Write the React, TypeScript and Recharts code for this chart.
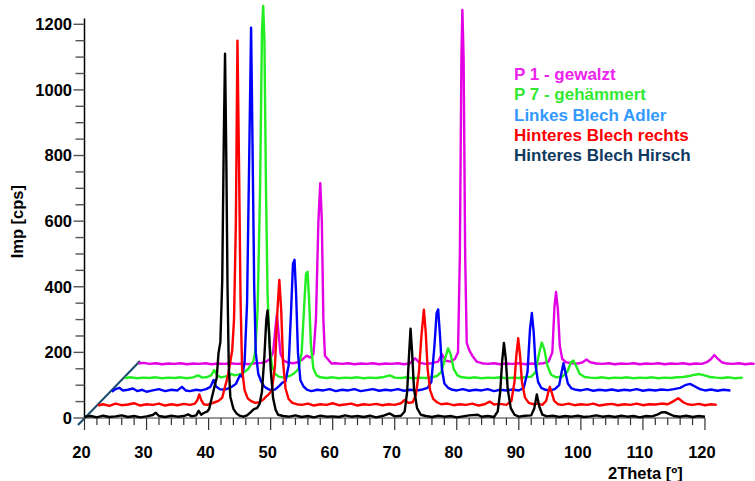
import { LineChart, Line, XAxis, YAxis, ReferenceLine, Label } from 'recharts';

const hirsch: [number, number][] = [
  [20, 4], [21, 6], [22, 2], [23, 7], [24, 3], [25, 5], [26, 8], [27, 3], [28, 6], [29, 2], [30, 5], [31, 9], [31.5, 16],
  [32, 6], [33, 3], [34, 7], [35, 4], [36, 6], [36.7, 11], [37.3, 5], [38, 8], [38.4, 22], [38.8, 10], [39.3, 16],
  [39.8, 20], [40.1, 28], [40.5, 60], [41.0, 100], [41.3, 122], [41.6, 198], [41.9, 232], [42.2, 420], [42.45, 850],
  [42.65, 1110], [42.85, 800], [43.05, 400], [43.25, 160], [43.5, 65], [44, 28], [44.5, 14], [45, 7], [45.6, 4],
  [46.2, 8], [46.8, 18], [47.3, 27], [47.8, 30], [48.2, 42], [48.6, 80], [49.0, 190], [49.3, 300], [49.5, 328],
  [49.75, 260], [50.0, 150], [50.4, 60], [50.8, 25], [51.2, 10], [52, 6], [53, 4], [54, 8], [55, 3], [56, 6], [57, 2],
  [58, 7], [59, 4], [60, 5], [61, 3], [62, 8], [63, 4], [64, 6], [65, 3], [66, 7], [67, 2], [68, 6], [69.2, 14], [70, 5],
  [71, 7], [71.6, 20], [72.0, 80], [72.3, 190], [72.55, 272], [72.8, 200], [73.1, 90], [73.6, 30], [74.2, 10], [75, 6],
  [76, 3], [77, 7], [78, 4], [79, 6], [80, 2], [81, 5], [82, 8], [83.4, 10], [84, 4], [85, 6], [86, 3], [86.6, 20],
  [87.0, 80], [87.3, 170], [87.6, 229], [87.9, 180], [88.2, 90], [88.7, 30], [89.3, 10], [90, 4], [91, 7], [92, 8],
  [92.5, 30], [92.9, 72], [93.3, 35], [93.8, 10], [94.5, 5], [95.5, 7], [96.5, 3], [97.5, 6], [98.5, 4], [99.5, 7],
  [100.5, 3], [101.5, 5], [102.5, 8], [103.5, 4], [104.5, 6], [105.5, 3], [106.5, 7], [107.5, 4], [108.5, 6],
  [109.5, 2], [110.5, 6], [111.5, 5], [112.3, 10], [113, 17], [113.6, 18], [114.3, 12], [115, 6], [116, 4], [117, 7],
  [118, 3], [119, 6], [120, 4],
];

const rechts: [number, number][] = [
  [22.2, 38], [23, 42], [24, 37], [25, 44], [26, 39], [27, 41], [28, 45], [29, 38], [30, 42], [31, 40], [32, 44],
  [33, 38], [34, 42], [35, 39], [36, 43], [37, 40], [37.8, 44], [38.2, 55], [38.5, 72], [38.8, 55], [39.2, 42],
  [39.8, 40], [40.4, 44], [41, 48], [41.6, 52], [42.2, 62], [42.6, 92], [43.0, 120], [43.4, 160], [43.8, 205],
  [44.1, 300], [44.4, 600], [44.65, 1150], [44.9, 780], [45.15, 360], [45.4, 150], [45.8, 85], [46.3, 60], [46.8, 52],
  [47.5, 46], [48.2, 48], [48.8, 56], [49.3, 66], [49.7, 72], [50.2, 85], [50.7, 160], [51.1, 330], [51.4, 421],
  [51.7, 330], [52.0, 170], [52.4, 90], [52.9, 58], [53.5, 46], [54.2, 42], [55, 40], [56, 44], [57, 38], [58, 42],
  [59, 40], [60, 45], [61, 39], [62, 41], [63, 44], [64, 38], [65, 42], [66, 40], [67, 43], [68, 39], [69, 42], [70, 40],
  [71, 45], [71.6, 55], [72.2, 46], [72.9, 48], [73.4, 70], [73.9, 140], [74.3, 250], [74.7, 330], [75.0, 260],
  [75.3, 150], [75.7, 85], [76.2, 58], [76.8, 48], [77.5, 42], [78.5, 44], [79.5, 39], [80.5, 42], [81.5, 40],
  [82.5, 44], [83.5, 38], [84.5, 42], [85.3, 50], [86, 41], [87, 43], [88, 40], [88.8, 52], [89.3, 110], [89.6, 190],
  [89.9, 243], [90.2, 190], [90.5, 110], [91, 62], [91.6, 46], [92.3, 42], [93, 44], [93.8, 40], [94.4, 52], [94.7, 75],
  [95.0, 95], [95.3, 78], [95.7, 52], [96.3, 42], [97, 40], [98, 44], [99, 39], [100, 42], [101, 40], [102, 44],
  [103, 38], [104, 41], [105, 43], [106, 39], [107, 42], [108, 40], [109, 44], [110, 39], [111, 42], [112, 41],
  [113, 44], [114, 42], [114.8, 50], [115.7, 60], [116.5, 48], [117.2, 42], [118, 40], [119, 43], [120, 39], [121, 42],
  [121.9, 40],
];

const adler: [number, number][] = [
  [24.4, 80], [25, 88], [25.6, 92], [26.2, 84], [27, 86], [27.8, 90], [28.5, 82], [29.3, 86], [30, 80], [31, 84],
  [32, 88], [33, 82], [34, 86], [35, 84], [35.7, 95], [36.3, 84], [37, 82], [38, 86], [38.8, 84], [39.6, 88],
  [40.3, 95], [40.8, 116], [41.2, 96], [41.8, 88], [42.5, 86], [43.2, 90], [43.8, 96], [44.4, 104], [44.8, 120],
  [45.1, 131], [45.4, 125], [45.8, 170], [46.2, 350], [46.55, 800], [46.85, 1190], [47.1, 800], [47.35, 400],
  [47.6, 200], [48.0, 135], [48.5, 110], [49.0, 95], [49.6, 88], [50.2, 84], [50.8, 88], [51.4, 98], [51.9, 108],
  [52.4, 112], [52.9, 160], [53.3, 330], [53.6, 470], [53.85, 482], [54.1, 380], [54.4, 200], [54.8, 115], [55.3, 96],
  [55.9, 86], [56.6, 82], [57.5, 86], [58.5, 84], [59.5, 88], [60.5, 82], [61.5, 86], [62.5, 84], [63.5, 88],
  [64.5, 82], [65.5, 85], [66.5, 88], [67.5, 83], [68.5, 86], [69.5, 84], [70.5, 88], [71.5, 83], [72.5, 86],
  [73.5, 84], [74.5, 87], [75.3, 92], [75.9, 110], [76.4, 220], [76.75, 320], [77.0, 331], [77.3, 250], [77.6, 150],
  [78.0, 105], [78.6, 92], [79.3, 86], [80, 84], [81, 88], [82, 83], [83, 86], [84, 84], [85, 88], [86, 82], [87, 86],
  [88, 84], [89, 87], [90, 84], [90.8, 92], [91.4, 140], [91.8, 270], [92.1, 320], [92.4, 260], [92.7, 160],
  [93.1, 110], [93.6, 92], [94.3, 86], [95, 84], [95.8, 88], [96.5, 100], [96.9, 140], [97.2, 167], [97.5, 140],
  [97.9, 105], [98.5, 90], [99.2, 86], [100, 84], [101, 88], [102, 83], [103, 86], [104, 84], [105, 87], [106, 83],
  [107, 86], [108, 84], [109, 88], [110, 83], [111, 86], [112, 84], [113, 87], [114, 85], [115, 88], [116, 92],
  [116.8, 100], [117.6, 104], [118.4, 96], [119.2, 88], [120, 84], [121, 87], [122, 83], [123, 86], [124.1, 84],
];

const gehaemmert: [number, number][] = [
  [26.5, 122], [27.5, 124], [28.5, 121], [29.5, 123], [30.5, 122], [31.5, 124], [32.5, 121], [33.5, 123], [34.5, 122],
  [35.5, 124], [36.5, 121], [37.5, 124], [38.3, 130], [39, 123], [39.8, 125], [40.4, 130], [40.9, 146], [41.4, 130],
  [42, 124], [42.6, 126], [43.2, 128], [43.7, 134], [44.2, 130], [44.8, 132], [45.4, 136], [45.9, 142], [46.4, 150],
  [46.9, 165], [47.2, 172], [47.5, 200], [47.9, 330], [48.3, 700], [48.6, 1180], [48.8, 1256], [49.0, 1150],
  [49.25, 700], [49.5, 380], [49.8, 230], [50.2, 160], [50.7, 135], [51.3, 126], [52, 124], [52.7, 126], [53.3, 130],
  [53.9, 138], [54.5, 150], [55.0, 200], [55.4, 340], [55.7, 440], [55.95, 446], [56.2, 360], [56.5, 220], [56.9, 150],
  [57.4, 130], [58, 124], [59, 122], [60, 124], [61, 121], [62, 123], [63, 122], [64, 124], [65, 121], [66, 123],
  [67, 122], [68, 124], [69.2, 130], [70, 123], [71, 122], [72, 124], [73, 121], [74, 123], [75, 122], [76, 124],
  [76.8, 128], [77.5, 140], [78.1, 180], [78.6, 212], [79.0, 195], [79.5, 150], [80.1, 130], [80.8, 124], [82, 122],
  [83, 124], [84, 121], [85, 123], [86, 122], [87, 124], [88, 121], [89, 123], [90, 122], [91, 124], [92, 126],
  [92.7, 140], [93.3, 200], [93.7, 230], [94.1, 210], [94.6, 160], [95.2, 132], [96, 124], [97, 126], [97.8, 140],
  [98.4, 170], [98.8, 175], [99.2, 160], [99.8, 135], [100.6, 125], [101.5, 123], [102.5, 122], [103.5, 124],
  [104.5, 121], [105.5, 123], [106.5, 122], [107.5, 124], [108.5, 121], [109.5, 123], [110.5, 122], [111.5, 124],
  [112.5, 121], [113.5, 123], [114.5, 122], [115.5, 124], [116.5, 125], [117.5, 128], [118.4, 132], [119.1, 134],
  [119.9, 130], [120.8, 125], [121.8, 123], [122.8, 122], [123.8, 124], [124.8, 121], [126.1, 123],
];

const gewalzt: [number, number][] = [
  [28.7, 166], [29.5, 168], [30.5, 165], [31.5, 167], [32.5, 164], [33.5, 166], [34.5, 165], [35.5, 167], [36.5, 164],
  [37.5, 166], [38.5, 165], [39.5, 167], [40.5, 164], [41.5, 166], [42.5, 165], [43.5, 167], [44.5, 165], [45.5, 166],
  [46.5, 164], [47.5, 167], [48.5, 168], [49.3, 172], [49.9, 180], [50.4, 200], [50.7, 260], [51.0, 314], [51.3, 255],
  [51.6, 195], [52.1, 175], [52.8, 169], [53.6, 167], [54.4, 170], [55.1, 178], [55.8, 190], [56.4, 184], [56.9, 195],
  [57.3, 300], [57.7, 600], [58.0, 716], [58.25, 600], [58.5, 300], [58.75, 190], [59.2, 180], [59.8, 166],
  [60.5, 167], [61.5, 165], [62.5, 167], [63.5, 164], [64.5, 166], [65.5, 165], [66.5, 167], [67.5, 164], [68.5, 166],
  [69.5, 165], [70.5, 167], [71.5, 164], [72.5, 167], [73.3, 182], [74, 168], [75, 165], [76, 167], [77, 172],
  [77.6, 195], [78.2, 175], [79, 172], [79.7, 180], [80.2, 200], [80.5, 500], [80.75, 1100], [80.9, 1244],
  [81.1, 1100], [81.35, 500], [81.6, 230], [82.0, 207], [82.5, 190], [83.2, 172], [84, 167], [85, 165], [86, 167],
  [87, 164], [88, 166], [89, 165], [90, 167], [91, 164], [92, 166], [93, 165], [94, 167], [94.8, 172], [95.4, 200],
  [95.75, 340], [96.0, 384], [96.3, 330], [96.6, 220], [97.0, 180], [97.6, 170], [98.5, 167], [99.5, 166],
  [100.3, 170], [100.9, 178], [101.5, 170], [102.5, 166], [103.5, 165], [104.5, 167], [105.5, 164], [106.5, 166],
  [107.5, 165], [108.5, 167], [109.5, 164], [110.5, 166], [111.5, 165], [112.5, 167], [113.5, 164], [114.5, 166],
  [115.5, 165], [116.5, 167], [117.5, 164], [118.5, 166], [119.5, 165], [120.3, 170], [121, 180], [121.5, 192],
  [122, 182], [122.7, 170], [123.5, 166], [124.5, 165], [125.5, 167], [126.5, 164], [127.5, 166], [128, 165],
];

const names = ['P 1 - gewalzt', 'P 7 - gehämmert', 'Linkes Blech Adler', 'Hinteres Blech rechts', 'Hinteres Blech Hirsch'];
const lineColors = ['#e400e4', '#22ee22', '#0000ff', '#ff0000', '#000000'];
const legendColors = ['#ee22ee', '#33e833', '#3399ff', '#ff0000', '#0f3a5f'];
const allSeries = [gewalzt, gehaemmert, adler, rechts, hirsch];

const yTicks = [0, 50, 100, 150, 200, 250, 300, 350, 400, 450, 500, 550, 600, 650, 700, 750, 800, 850, 900, 950, 1000,
  1050, 1100, 1150, 1200];
const xTicks = [20, 22, 24, 26, 28, 30, 32, 34, 36, 38, 40, 42, 44, 46, 48, 50, 52, 54, 56, 58, 60, 62, 64, 66, 68, 70,
  72, 74, 76, 78, 80, 82, 84, 86, 88, 90, 92, 94, 96, 98, 100, 102, 104, 106, 108, 110, 112, 114, 116, 118, 120];

const font = 'Liberation Sans, Arial, sans-serif';

function YTick(props: any) {
  const { x, y, payload } = props;
  const major = payload.value % 200 === 0;
  return (
    <g>
      <line x1={x - (major ? 11 : 9)} x2={x} y1={y} y2={y} stroke="#555" strokeWidth={1.4} />
      {major && (
        <text x={x - 12.5} y={y} dy="0.36em" textAnchor="end" fontFamily={font} fontWeight="bold" fontSize={16.5} fill="#000">
          {payload.value}
        </text>
      )}
    </g>
  );
}

function XTick(props: any) {
  const { x, y, payload } = props;
  const major = payload.value % 10 === 0;
  return (
    <g>
      <line x1={x} x2={x} y1={y} y2={y + (major ? 12 : 7)} stroke="#333" strokeWidth={1.2} />
      {major && (
        <text x={x - 3} y={y + 40.3} textAnchor="middle" fontFamily={font} fontWeight="bold" fontSize={16.5} fill="#000">
          {payload.value}
        </text>
      )}
    </g>
  );
}

export default function App() {
  return (
    <div style={{ position: 'absolute', left: 0, top: 0, width: 755, height: 481 }}>
      <LineChart width={755} height={481} margin={{ top: 1.33, right: 0.4, left: 0, bottom: 0 }}>
        <XAxis
          type="number"
          dataKey="x"
          domain={[20, 128]}
          ticks={xTicks}
          interval={0}
          axisLine={false}
          tickLine={false}
          tickSize={0}
          tickMargin={0}
          height={63}
          tick={<XTick />}
        >
          <Label
            content={() => (
              <text x={608} y={479} textAnchor="start" fontFamily={font} fontWeight="bold" fontSize={16.5} fill="#000">
                2Theta [º]
              </text>
            )}
          />
        </XAxis>
        <YAxis
          type="number"
          domain={[0, 1270]}
          ticks={yTicks}
          interval={0}
          axisLine={false}
          tickLine={false}
          tickSize={0}
          tickMargin={0}
          width={84.5}
          tick={<YTick />}
        >
          <Label
            content={() => (
              <text x={22.8} y={221.7} transform="rotate(-90 22.8 221.7)" textAnchor="middle" fontFamily={font}
                fontWeight="bold" fontSize={16.5} fill="#000">
                Imp [cps]
              </text>
            )}
          />
        </YAxis>
        <ReferenceLine segment={[{ x: 20, y: 0 }, { x: 20, y: 1218 }]} stroke="#000" strokeWidth={1.5} ifOverflow="visible" />
        <ReferenceLine segment={[{ x: 20, y: 0 }, { x: 120, y: 0 }]} stroke="#333" strokeWidth={1} ifOverflow="visible" />
        <ReferenceLine
          segment={[{ x: 18.95, y: -21.3 }, { x: 28.94, y: 173.8 }]}
          stroke="#1b4a6b"
          strokeWidth={2}
          ifOverflow="visible"
        />
        {allSeries.map((s, i) => (
          <Line
            key={names[i]}
            name={names[i]}
            data={s.map(([x, y]) => ({ x, y }))}
            dataKey="y"
            stroke={lineColors[i]}
            strokeWidth={2.4}
            strokeLinejoin="round"
            dot={false}
            activeDot={false}
            isAnimationActive={false}
          />
        ))}
      </LineChart>
      <div
        style={{
          position: 'absolute', left: 514, top: 65, fontFamily: font, fontWeight: 'bold', fontSize: 17,
          lineHeight: '20.25px', whiteSpace: 'nowrap',
        }}
      >
        {names.map((n, i) => (
          <div key={n} style={{ color: legendColors[i] }}>{n}</div>
        ))}
      </div>
    </div>
  );
}
